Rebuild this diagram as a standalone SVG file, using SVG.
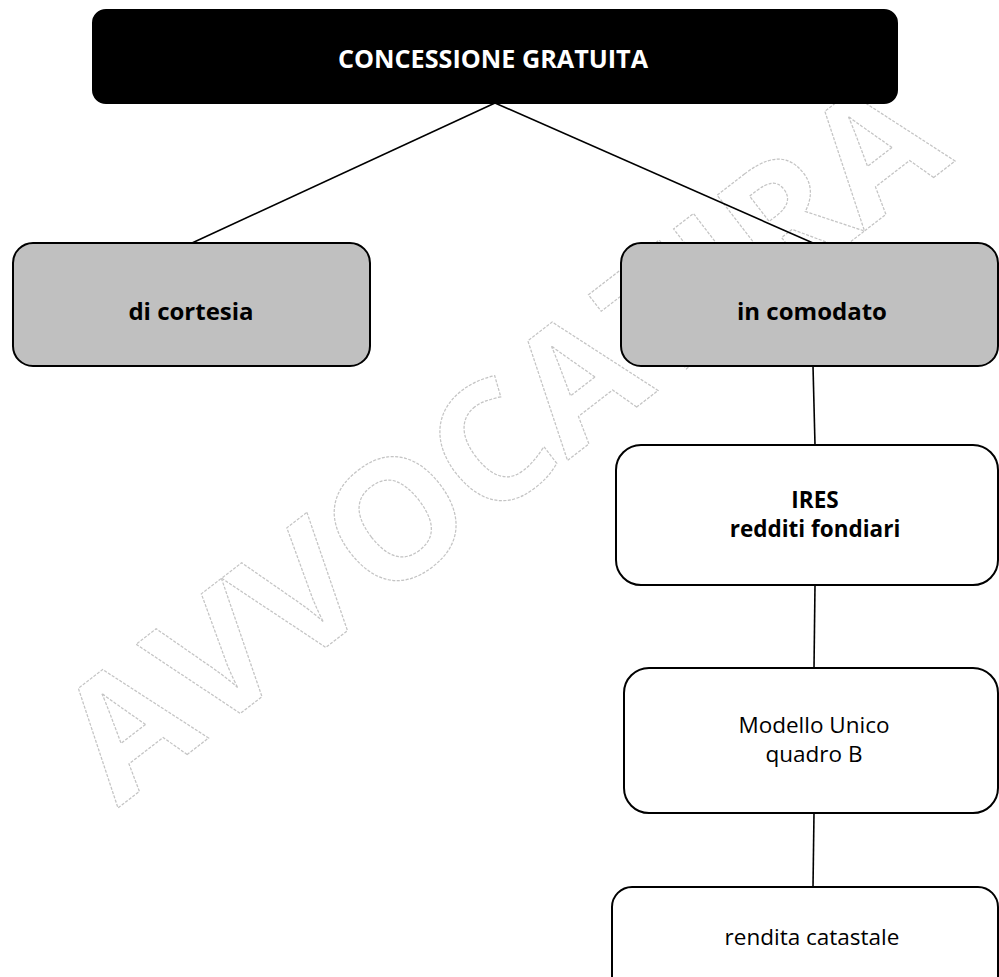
<svg xmlns="http://www.w3.org/2000/svg" width="999" height="977" viewBox="0 0 999 977">
<style>
.wm{font-family:"Open Sans","Liberation Sans",sans-serif;font-weight:bold;font-size:166px;fill:none;stroke:#c4c4c4;stroke-width:1.2;stroke-dasharray:3 1.5}
.node rect{stroke:#000;stroke-width:2}
.t{font-family:"Open Sans","Liberation Sans",sans-serif;text-anchor:middle;fill:#000}
.b{font-weight:bold;font-size:24px}
.b2{font-weight:bold;font-size:22.5px}
.r{font-size:22.5px}
.conn line{stroke:#000;stroke-width:1.6}
</style>
<rect width="999" height="977" fill="#fff"/>
<text class="wm" transform="translate(118 808) rotate(-37.7)">AVVOCATIRA</text>
<g class="conn">
<line x1="495" y1="103" x2="192" y2="243"/>
<line x1="495" y1="103" x2="813" y2="243"/>
<line x1="813" y1="366" x2="815" y2="445"/>
<line x1="815" y1="585" x2="814" y2="668"/>
<line x1="814" y1="813" x2="813" y2="887"/>
</g>
<g id="n-concessione" class="node">
<rect x="93" y="10" width="804" height="93" rx="13" fill="#000" stroke="#000"/>
<text class="t" x="493" y="68" style="fill:#fff;font-weight:bold;font-size:25.2px">CONCESSIONE GRATUITA</text>
</g>
<g id="n-cortesia" class="node">
<rect x="13" y="243" width="357" height="123" rx="20" fill="#c0c0c0"/>
<text class="t b" x="191" y="320">di cortesia</text>
</g>
<g id="n-comodato" class="node">
<rect x="621" y="243" width="377" height="123" rx="20" fill="#c0c0c0"/>
<text class="t b" x="812" y="320">in comodato</text>
</g>
<g id="n-ires" class="node">
<rect x="616" y="445" width="382" height="140" rx="25" fill="#fff"/>
<text class="t b2" x="815" y="508">IRES</text>
<text class="t b2" x="815" y="537">redditi fondiari</text>
</g>
<g id="n-modello" class="node">
<rect x="624" y="668" width="374" height="145" rx="25" fill="#fff"/>
<text class="t r" x="814" y="733">Modello Unico</text>
<text class="t r" x="814" y="762">quadro B</text>
</g>
<g id="n-rendita" class="node">
<rect x="612" y="887" width="386" height="110" rx="20" fill="#fff"/>
<text class="t r" x="812" y="945">rendita catastale</text>
</g>
</svg>
